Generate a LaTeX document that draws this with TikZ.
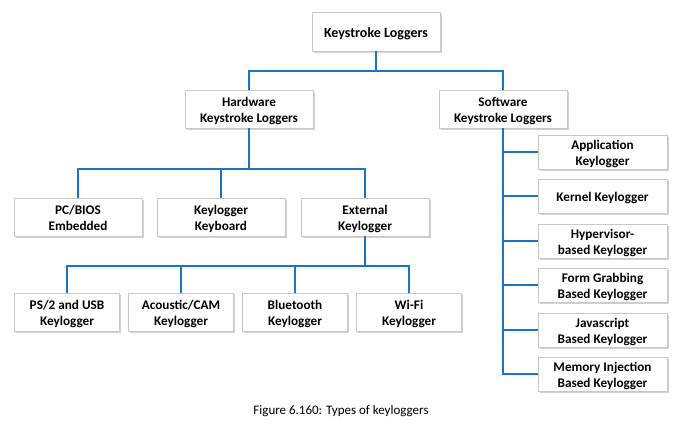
\documentclass[tikz,border=0pt]{standalone}
\usepackage{fontspec}
\setmainfont{Carlito}
\usetikzlibrary{shadows}
\definecolor{conncol}{RGB}{28,117,196}
\definecolor{boxline}{RGB}{200,200,200}
\newcommand\boxtext[1]{\raisebox{-2.5pt}[\height][\depth]{\begin{tabular}{@{}c@{}}#1\end{tabular}}}
\tikzset{
  box/.style={draw=boxline, line width=0.9pt, fill=white, align=center,
    inner sep=0pt, font=\bfseries\fontsize{13.2}{16.3}\selectfont,
    drop shadow={shadow xshift=1.6pt, shadow yshift=-1.6pt, fill=black!30, opacity=0.6}},
  conn/.style={draw=conncol, line width=2.2pt}
}
\begin{document}
\begin{tikzpicture}[x=1pt,y=-1pt]
\useasboundingbox (0,0) rectangle (690,425);
% top level
\node[box, minimum width=128pt, minimum height=39pt, font=\bfseries\fontsize{14}{17}\selectfont] (top) at (376,31.5) {\boxtext{Keystroke Loggers}};
\node[box, minimum width=128pt, minimum height=38pt] (hw) at (249,109) {\boxtext{Hardware\\Keystroke Loggers}};
\node[box, minimum width=128pt, minimum height=38pt] (sw) at (503,109) {\boxtext{Software\\Keystroke Loggers}};
% hardware children
\node[box, minimum width=128pt, minimum height=38pt] (pc) at (78,217) {\boxtext{PC/BIOS\\Embedded}};
\node[box, minimum width=128pt, minimum height=38pt] (kk) at (221,217) {\boxtext{Keylogger\\Keyboard}};
\node[box, minimum width=128pt, minimum height=38pt] (ext) at (365,217) {\boxtext{External\\Keylogger}};
% external children
\node[box, minimum width=105pt, minimum height=38pt] (ps) at (67,312) {\boxtext{PS/2 and USB\\Keylogger}};
\node[box, minimum width=105pt, minimum height=38pt] (ac) at (181,312) {\boxtext{Acoustic/CAM\\Keylogger}};
\node[box, minimum width=105pt, minimum height=38pt] (bt) at (295,312) {\boxtext{Bluetooth\\Keylogger}};
\node[box, minimum width=105pt, minimum height=38pt] (wf) at (409,312) {\boxtext{Wi-Fi\\Keylogger}};
% software children
\node[box, minimum width=129pt, minimum height=34pt] (app) at (602.5,152) {\boxtext{Application\\Keylogger}};
\node[box, minimum width=129pt, minimum height=34pt] (ker) at (602.5,196) {\boxtext{Kernel Keylogger}};
\node[box, minimum width=129pt, minimum height=34pt] (hyp) at (602.5,241) {\boxtext{Hypervisor-\\based Keylogger}};
\node[box, minimum width=129pt, minimum height=34pt] (form) at (602.5,285) {\boxtext{Form Grabbing\\Based Keylogger}};
\node[box, minimum width=129pt, minimum height=34pt] (js) at (602.5,330) {\boxtext{Javascript\\Based Keylogger}};
\node[box, minimum width=129pt, minimum height=34pt] (mem) at (602.5,374) {\boxtext{Memory Injection\\Based Keylogger}};
% caption
\node[font=\fontsize{13}{15}\selectfont, inner sep=0pt] (cap) at (341,411) {Figure 6.160: Types of keyloggers};
% connectors
\coordinate (b1) at (376,71);
\coordinate (b2) at (249,169);
\coordinate (b3) at (365,266);
\draw[conn] (top.south) -- (b1);
\draw[conn] (hw.north) |- (b1) -| (sw.north);
\draw[conn] (hw.south) -- (b2);
\draw[conn] (pc.north) |- (b2) -| (ext.north);
\draw[conn] (kk.north) -- (kk.north |- b2);
\draw[conn] (ext.south) -- (b3);
\draw[conn] (ps.north) |- (b3) -| (wf.north);
\draw[conn] (ac.north) -- (ac.north |- b3);
\draw[conn] (bt.north) -- (bt.north |- b3);
\draw[conn] (sw.south) |- (mem.west);
\foreach \n in {app,ker,hyp,form,js} {
  \draw[conn] (\n.west) -- (\n.west -| sw.south);
}
\end{tikzpicture}
\end{document}
